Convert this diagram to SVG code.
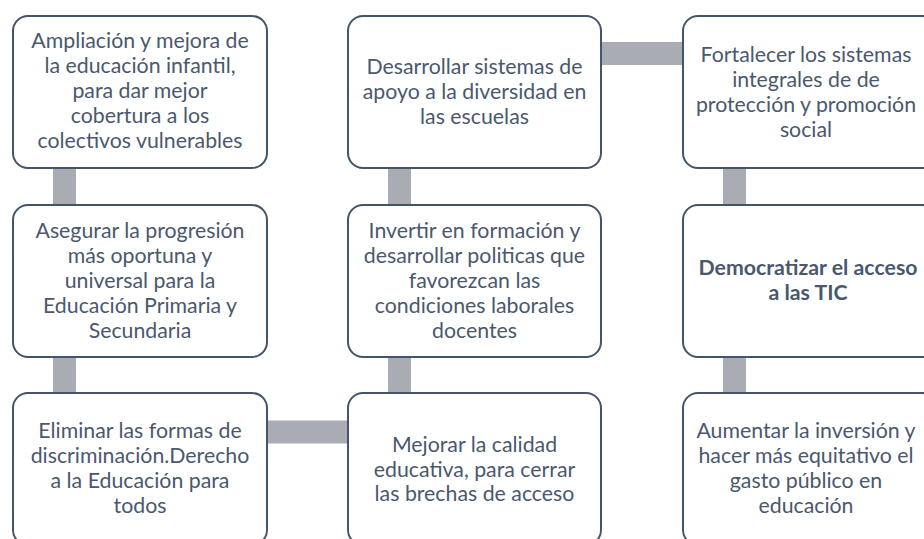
<svg xmlns="http://www.w3.org/2000/svg" width="924" height="539" viewBox="0 0 924 539">
<style>
.box{fill:#ffffff;stroke:#44546a;stroke-width:2}
.c{stroke:#a9acb3;stroke-width:23;fill:none}
text{font-family:Lato,"Open Sans","Liberation Sans",sans-serif;font-size:21.3px;fill:#4a586e;text-anchor:middle}
.b{font-weight:bold}
</style>
<rect width="924" height="539" fill="#ffffff"/>
<g id="connectors">
<line class="c" x1="64.5" y1="160" x2="64.5" y2="212"/>
<line class="c" x1="64.5" y1="350" x2="64.5" y2="400"/>
<line class="c" x1="260" y1="432" x2="355" y2="432"/>
<line class="c" x1="399.5" y1="350" x2="399.5" y2="400"/>
<line class="c" x1="399.5" y1="160" x2="399.5" y2="212"/>
<line class="c" x1="595" y1="53.5" x2="690" y2="53.5"/>
<line class="c" x1="734.5" y1="160" x2="734.5" y2="212"/>
<line class="c" x1="734.5" y1="350" x2="734.5" y2="400"/>
</g>
<g id="n1"><rect class="box" x="13" y="16" width="254" height="152" rx="15"/>
<text x="140" y="48">Ampliación y mejora de</text><text x="140" y="73">la educación infantil,</text><text x="140" y="98">para dar mejor</text><text x="140" y="123">cobertura a los</text><text x="140" y="148">colectivos vulnerables</text></g>
<g id="n2"><rect class="box" x="13" y="205" width="254" height="152" rx="15"/>
<text x="140" y="238">Asegurar la progresión</text><text x="140" y="263">más oportuna y</text><text x="140" y="288">universal para la</text><text x="140" y="313">Educación Primaria y</text><text x="140" y="338">Secundaria</text></g>
<g id="n3"><rect class="box" x="13" y="393" width="254" height="152" rx="15"/>
<text x="140" y="438">Eliminar las formas de</text><text x="140" y="463">discriminación.Derecho</text><text x="140" y="488">a la Educación para</text><text x="140" y="513">todos</text></g>
<g id="n4"><rect class="box" x="348" y="393" width="253" height="152" rx="15"/>
<text x="474.5" y="452">Mejorar la calidad</text><text x="474.5" y="477">educativa, para cerrar</text><text x="474.5" y="501">las brechas de acceso</text></g>
<g id="n5"><rect class="box" x="348" y="205" width="253" height="152" rx="15"/>
<text x="474.5" y="238">Invertir en formación y</text><text x="474.5" y="263">desarrollar politicas que</text><text x="474.5" y="288">favorezcan las</text><text x="474.5" y="313">condiciones laborales</text><text x="474.5" y="338">docentes</text></g>
<g id="n6"><rect class="box" x="348" y="16" width="253" height="152" rx="15"/>
<text x="474.5" y="74">Desarrollar sistemas de</text><text x="474.5" y="99">apoyo a la diversidad en</text><text x="474.5" y="124">las escuelas</text></g>
<g id="n7"><rect class="box" x="683" y="16" width="254" height="152" rx="15"/>
<text x="806" y="62">Fortalecer los sistemas</text><text x="806" y="87">integrales de de</text><text x="806" y="112">protección y promoción</text><text x="806" y="137">social</text></g>
<g id="n8"><rect class="box" x="683" y="205" width="254" height="152" rx="15"/>
<text class="b" x="808" y="275">Democratizar el acceso</text><text class="b" x="808" y="300">a las TIC</text></g>
<g id="n9"><rect class="box" x="683" y="393" width="254" height="152" rx="15"/>
<text x="806" y="438">Aumentar la inversión y</text><text x="806" y="463">hacer más equitativo el</text><text x="806" y="488">gasto público en</text><text x="806" y="513">educación</text></g>
</svg>
